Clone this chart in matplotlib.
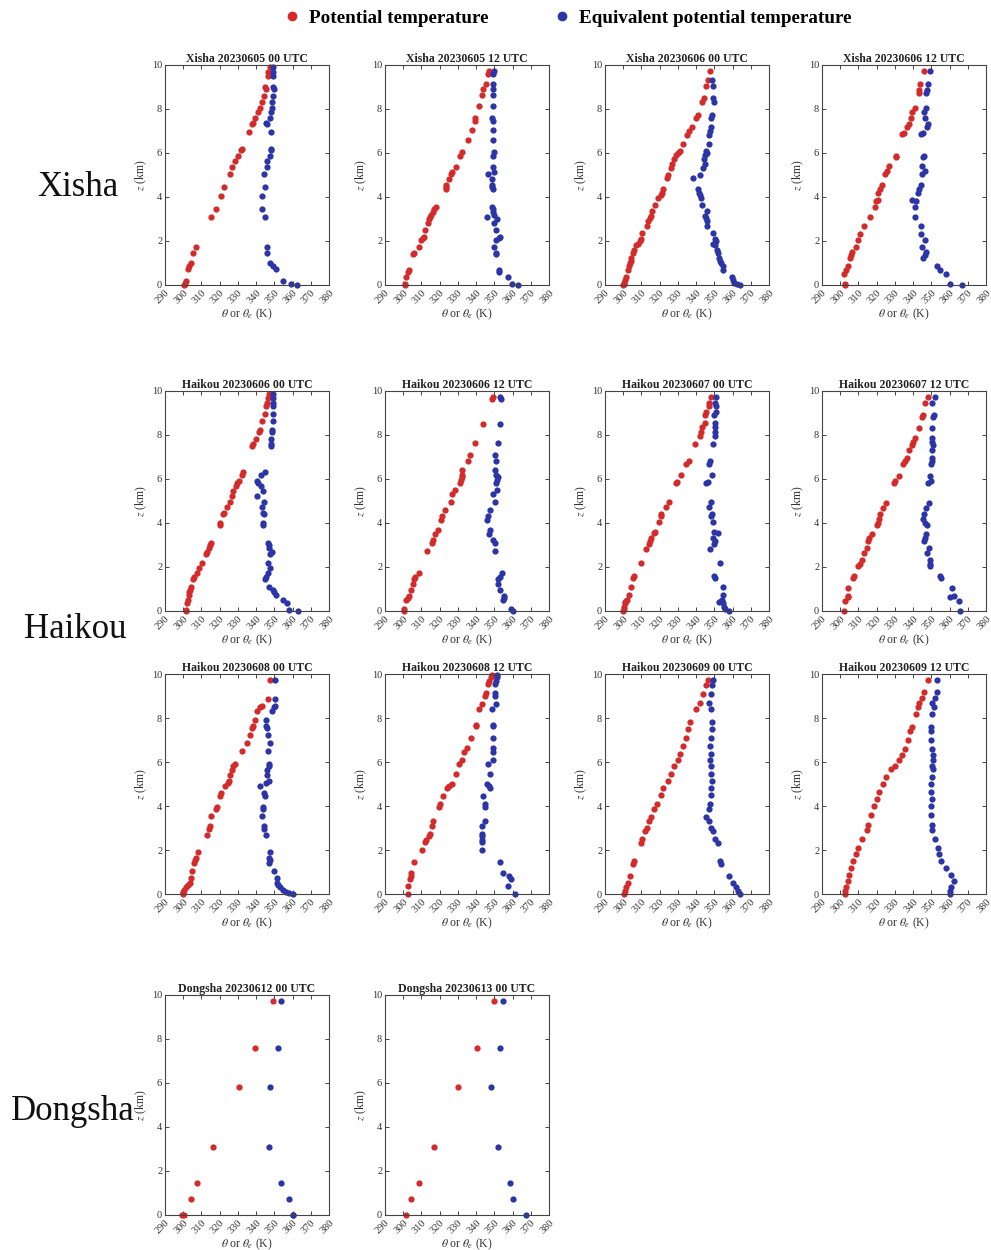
"""
Vertical profiles of potential temperature and equivalent potential temperature
for the Xisha, Haikou and Dongsha soundings.
"""
import matplotlib
import matplotlib.pyplot as plt
from matplotlib.lines import Line2D
import numpy as np

matplotlib.use('agg')

plt.rcParams['font.family'] = ['Liberation Serif', 'DejaVu Serif']
plt.rcParams['mathtext.fontset'] = 'stix'

nan = np.nan

# ---- data (z in km, theta / theta_e in K) ----
xisha_0605_00_z = [0.0, 0.05, 0.2, 0.75, 0.85, 1.0, 1.45, 1.75, 3.1, 3.45, 4.05, 4.45, 5.05, 5.35, 5.65, 5.85,
                   6.15, 6.2, 6.95, 7.3, 7.35, 7.6, 7.85, 8.05, 8.3, 8.6, 8.9, 9.0, 9.5, 9.7, 9.9]
xisha_0605_00_th = [300.5, 301, 301.5, 302.5, 303, 304, 305.5, 307, 315.5, 318, 320.5, 322.5, 325.5, 327, 328.5, 330,
                    331.5, 332.5, 336, 338, 338.5, 339.5, 341, 342, 343, 344.5, 345.5, 345, 346.5, 346.5, 347.5]
xisha_0605_00_the = [362.5, 359, 355, 351, 349.5, 347.5, 346, 346, 345, 343, 343.5, 345, 344.5, 346, 346, 347.5,
                     348, 348, 348, 346, 345.5, 347.5, 348, 348.5, 348.5, 349.5, 350, 349.5, 349.5, 349, 349]

xisha_0605_12_z = [0.0, 0.05, 0.35, 0.6, 0.7, 1.4, 1.45, 1.75, 2.05, 2.15, 2.2, 2.5, 2.8, 3.0, 3.1, 3.2, 3.3, 3.45,
                   3.55, 4.35, 4.45, 4.55, 4.8, 5.05, 5.15, 5.35, 5.85, 6.05, 6.6, 7.05, 7.45, 7.6, 8.15, 8.65, 8.9,
                   9.15, 9.6, 9.75]
xisha_0605_12_th = [301, 301, 301.5, 302.5, 303, 305.5, 306, 308.5, 310, 311, 311.5, 312, 313.5, 314, 314.5, 315.5,
                    316.5, 317, 318, 323.5, 323.5, 323.5, 325, 326, 327, 329, 331, 332, 335.5, 337.5, 339.5, 339.5,
                    341.5, 343.5, 344, 345.5, 346.5, 347]
xisha_0605_12_the = [363, 359.5, 357.5, 352.5, 352.5, 351, 351, 350, 351, 352.5, 353, 351, 350, 351.5, 346, 350,
                     349, 349, 348.5, 349, 348.5, 348.5, 348.5, 346.5, 350, 349, 349.5, 350, 349.5, 349, 349, 348.5,
                     349, 349, 349, 349.5, 349.5, 349.8]

xisha_0606_00_z = [0.0, 0.05, 0.1, 0.25, 0.35, 0.7, 0.85, 1.0, 1.1, 1.25, 1.45, 1.6, 1.8, 1.85, 2.0, 2.1, 2.35, 2.7,
                   2.9, 3.05, 3.15, 3.35, 3.65, 3.95, 4.1, 4.2, 4.35, 4.85, 5.0, 5.3, 5.5, 5.75, 5.9, 6.0, 6.1, 6.4,
                   6.8, 7.0, 7.2, 7.6, 7.75, 8.3, 8.5, 9.05, 9.3, 9.75]
xisha_0606_00_th = [300, 300.2, 300.5, 301, 301.5, 302.5, 303, 303.5, 304, 304.5, 305.5, 306, 307, 308, 309, 310,
                    310.5, 313, 313.5, 314.5, 315, 316, 317.5, 319, 320.5, 321.5, 322, 324, 324.5, 326, 327, 328,
                    329, 330, 331, 333, 335, 336, 337.5, 340, 341, 343, 344.5, 345.5, 346.5, 347.5]
xisha_0606_00_the = [364, 362.5, 361, 360, 359.5, 355, 354.5, 353.5, 353, 352.5, 352, 351.5, 350.5, 349, 351, 350.5,
                     349.5, 346, 346, 345.5, 345, 346, 343, 342.5, 342, 341.5, 341, 338.5, 342, 344, 345, 344.5,
                     345, 346, 345.5, 347, 347, 347.5, 348, 348, 348.5, 350, 349.5, 349.5, 348.5, nan]

xisha_0606_12_z = [0.0, 0.05, 0.5, 0.7, 0.85, 1.25, 1.35, 1.5, 1.75, 2.05, 2.3, 2.7, 3.1, 3.55, 3.8, 3.85, 4.2,
                   4.35, 4.55, 5.05, 5.2, 5.4, 5.8, 5.85, 6.85, 6.9, 7.2, 7.3, 7.6, 7.85, 8.05, 8.75, 8.85, 9.15,
                   9.75]
xisha_0606_12_th = [302.5, 302.5, 302, 303, 304, 305.5, 306, 306.5, 308.5, 309.5, 311, 313, 316.5, 319, 319.5,
                    320.5, 321, 322, 323, 324.5, 325.5, 326.5, 330.5, 330.5, 334, 335, 336.5, 337.5, 339, 339.5,
                    341, 343, 343.5, 344, 346]
xisha_0606_12_the = [367, 360.5, 358, 355, 353, 345.5, 346.5, 347, 345, 346.5, 344.5, 344.5, 341, 341, 341.5,
                     339.5, 342.5, 343.5, 344.5, 345, 346.5, 345, 345.5, 346, 344.5, 345.5, 347.5, 348, 346.5, 346,
                     347, 347, 347.5, 348, 349]

haikou_0606_00_z = [0.0, 0.05, 0.35, 0.5, 0.75, 0.85, 0.95, 1.1, 1.45, 1.55, 1.75, 1.95, 2.2, 2.6, 2.7, 2.85, 3.0,
                    3.1, 3.9, 4.0, 4.4, 4.45, 4.75, 4.95, 5.25, 5.45, 5.7, 5.8, 5.9, 6.2, 6.3, 7.5, 7.6, 7.8, 8.15,
                    8.25, 8.65, 8.95, 9.3, 9.45, 9.7, 9.85]
haikou_0606_00_th = [301.5, 301.5, 302, 302.5, 303, 303, 303.5, 304, 305.5, 306, 307.5, 308.5, 310.5, 312.5, 313,
                     314, 314.5, 315.5, 320, 320, 322, 322.5, 324, 325.5, 326.5, 327.5, 329, 329.5, 330.5, 332, 333,
                     338, 338.5, 340, 341.5, 342, 343.5, 345, 345.5, 346, 346.5, 347]
haikou_0606_00_the = [363, 358, 357, 355, 351, 350, 349, 347, 345, 345.5, 346.5, 347.5, 346.5, 347.5, 348.5, 347,
                      347, 346.5, 344, 344, 344.5, 344, 343, 344.5, 340.5, 344, 342.5, 341, 340.5, 342.5, 345, 348,
                      348, 348, 348.5, 348.5, 349, 349.5, 349.5, 349, 349.5, 349.5]

haikou_0606_12_z = [0.0, 0.1, 0.5, 0.6, 0.7, 0.95, 1.25, 1.45, 1.55, 1.75, 2.75, 3.1, 3.25, 3.5, 3.7, 4.15, 4.3,
                    4.6, 4.95, 5.3, 5.5, 5.8, 5.95, 6.1, 6.2, 6.4, 6.8, 7.1, 7.65, 8.5, 9.65, 9.75]
haikou_0606_12_th = [300.5, 300.5, 301.5, 302.5, 303, 304, 305.5, 306, 306.5, 308.5, 313, 316, 316.5, 317.5, 319,
                     321, 321.5, 323, 326, 326.5, 328.5, 331, 331.5, 332, 332.5, 332.5, 335.5, 336.5, 339.5, 344,
                     348.5, 349]
haikou_0606_12_the = [360.5, 359, 355, 355.5, 355.5, 353, 352, 352, 353, 354, 350.5, 350.5, 349, 347, 347.5, 346,
                      346.5, 347.5, 350.5, 349.5, 351.5, 351, 351.5, 352, 351, 350.5, 351, 350.5, 352, 353, 353.5,
                      353]

haikou_0607_00_z = [0.0, 0.1, 0.2, 0.35, 0.4, 0.45, 0.5, 0.75, 1.1, 1.5, 1.6, 2.2, 2.8, 3.05, 3.2, 3.3, 3.55, 3.6,
                    4.05, 4.3, 4.4, 4.75, 4.95, 5.8, 5.85, 6.2, 6.7, 6.8, 7.6, 7.95, 8.15, 8.35, 8.55, 8.9, 9.05,
                    9.3, 9.45, 9.75]
haikou_0607_00_th = [300, 300.5, 300.5, 301, 301, 301.5, 302, 303, 304.5, 305.5, 306, 310, 312.5, 314, 314.5, 315,
                     317, 317.5, 319.5, 320.5, 321, 323.5, 325, 329, 329.5, 331.5, 334.5, 336, 339.5, 342, 342.5,
                     343.5, 345, 345, 345.5, 347, 347, 348]
haikou_0607_00_the = [358, 356, 355.5, 355, 352.5, 353.5, 354, 355, 355, 350.5, 350, 353, 347.5, 350, 350.5, 349.5,
                      352, 350, 349.5, 348, 348.5, 347, 348, 345.5, 346.5, 348.5, 347, 347.5, 349, 350.5, 350.5,
                      350.5, 350.5, 350, 351, 351, 350.5, 351]

haikou_0607_12_z = [0.0, 0.45, 0.65, 0.7, 1.05, 1.5, 1.6, 2.05, 2.15, 2.3, 2.65, 2.85, 3.2, 3.3, 3.5, 3.9, 4.0,
                    4.2, 4.4, 4.7, 4.9, 5.8, 5.9, 6.15, 6.7, 6.8, 6.95, 7.3, 7.55, 7.7, 7.85, 8.3, 8.8, 8.9, 9.45,
                    9.75]
haikou_0607_12_th = [302, 302.5, 304, 304, 304.5, 307, 307.5, 310, 311, 312, 313, 314.5, 315.5, 316, 317.5, 320,
                     320.5, 321.5, 322, 323.5, 325, 329.5, 330, 332, 334.5, 335.5, 336.5, 337.5, 339.5, 340, 341,
                     343.5, 345, 345.5, 346.5, 348]
haikou_0607_12_the = [366, 365, 360.5, 362.5, 361.5, 355.5, 355, 349.5, 349.5, 349, 347.5, 348.5, 346, 346.5, 347,
                      347.5, 346.5, 345.5, 346, 347, 348.5, 348, 350, 349.5, 350, 350.5, 350.5, 350.5, 351, 350.5,
                      350.5, 350.5, 351, 351.5, 350.5, 352]

haikou_0608_00_z = [0.0, 0.05, 0.1, 0.2, 0.3, 0.4, 0.5, 0.75, 1.05, 1.4, 1.55, 1.65, 1.9, 2.7, 2.95, 3.1, 3.55,
                    3.85, 3.95, 4.45, 4.6, 4.9, 5.05, 5.15, 5.4, 5.65, 5.8, 5.9, 6.5, 6.85, 7.25, 7.55, 7.65, 7.9,
                    8.3, 8.5, 8.55, 8.85, 9.75]
haikou_0608_00_th = [300, 300, 300, 300.5, 301.5, 302.5, 303.5, 304, 305, 306, 306.5, 307, 308, 313, 314, 314.5,
                     315.5, 318, 318.5, 320, 320.5, 323, 324.5, 325, 325.5, 326.5, 327.5, 328.5, 332, 335, 336.5,
                     338, 338.5, 339.5, 340.5, 342, 343, 346.5, 347.5]
haikou_0608_00_the = [360, 358, 356.5, 354.5, 353, 352, 351.5, 351.5, 350, 347, 347.5, 347, 347.5, 345.5, 344.5,
                      344.5, 343.5, 344, 344, 345, 344.5, 342, 345.5, 347, 346, 346, 347, 347, 346.5, 347.5, 346.5,
                      346, 345.5, 345.5, 348.5, 350, 350.5, 350.5, 350.5]

haikou_0608_12_z = [0.0, 0.35, 0.7, 0.8, 0.95, 1.45, 2.0, 2.35, 2.45, 2.65, 2.75, 3.1, 3.3, 3.95, 4.1, 4.45, 4.8,
                    4.9, 5.0, 5.45, 5.9, 6.1, 6.45, 6.65, 7.1, 7.65, 7.7, 8.4, 8.65, 9.0, 9.15, 9.55, 9.7, 9.85,
                    9.95]
haikou_0608_12_th = [302.5, 302.5, 303.5, 304, 304.5, 306, 310.5, 312, 312.5, 314, 314.5, 316, 316.5, 319.5, 320,
                     322, 324, 325, 326.5, 329, 330.5, 332, 333.5, 335, 337, 340, 340, 341.5, 343.5, 345, 345.5,
                     346.5, 347, 348, 348.5]
haikou_0608_12_the = [361.5, 357.5, 359, 358, 355, 353, 343.5, 343, 343.5, 343.5, 343.5, 343.5, 345, 345, 345, 344,
                      347.5, 347, 346, 347.5, 346.5, 349.5, 349.5, 349.5, 349, 349.5, 349, 348.5, 351, 350.5, 350.5,
                      350.5, 351, 351.5, 351.5]

haikou_0609_00_z = [0.0, 0.15, 0.3, 0.5, 0.8, 1.35, 1.5, 2.3, 2.5, 2.85, 3.0, 3.3, 3.5, 3.85, 4.1, 4.5, 4.8, 5.15,
                    5.45, 5.8, 6.1, 6.35, 6.75, 7.1, 7.5, 7.8, 8.4, 8.7, 9.1, 9.5, 9.75]
haikou_0609_00_th = [300.5, 301, 301.5, 302.5, 303.5, 305.5, 306, 309.5, 310.5, 312, 313, 314, 315, 317, 318.5,
                     320.5, 322, 324.5, 326, 328, 330, 331, 333, 334.5, 335.5, 336.5, 340, 342, 344, 345.5, 346.5]
haikou_0609_00_the = [364, 363, 362, 360.5, 358, 353.5, 353, 352, 350.5, 349, 348, 347, 345.5, 347, 347.5, 348,
                      348, 348.5, 348, 348, 347.5, 348, 347.5, 348, 348.5, 348.5, 348, 347, 348, 348.5, 349.5]

haikou_0609_12_z = [0.0, 0.15, 0.3, 0.6, 0.85, 1.2, 1.5, 1.8, 2.1, 2.5, 2.9, 3.15, 3.6, 4.0, 4.3, 4.65, 5.0, 5.3,
                    5.7, 5.8, 6.1, 6.3, 6.6, 7.0, 7.4, 7.6, 8.2, 8.5, 8.7, 8.9, 9.2, 9.75]
haikou_0609_12_th = [302.5, 302.5, 303, 304, 305, 306, 307, 308.5, 310, 312, 314.5, 315.5, 317, 318.5, 320, 321.5,
                     323.5, 325, 328, 330, 332.5, 334, 335.5, 337, 338.5, 339.5, 341.5, 342.5, 343.5, 345, 346, 348]
haikou_0609_12_the = [360, 360, 361, 362.5, 361, 358, 355.5, 354, 353.5, 352, 350.5, 350.5, 350, 350, 350.5, 350,
                      350, 350.5, 351, 350.5, 351, 351, 350.5, 350, 350, 350, 350.5, 351.5, 350.5, 352, 353, 353]

dongsha_0612_00_z = [0.0, 0.02, 0.71, 1.45, 3.1, 5.84, 7.58, 9.71]
dongsha_0612_00_th = [299.5, 300.5, 304.2, 307.6, 316.4, 330.4, 339.6, 349.3]
dongsha_0612_00_the = [360.4, 360.0, 358.2, 353.5, 346.9, 347.6, 351.8, 353.8]

dongsha_0613_00_z = [0.0, 0.71, 1.45, 3.1, 5.84, 7.58, 9.71]
dongsha_0613_00_th = [301.5, 304.5, 308.5, 317, 330, 340.5, 350]
dongsha_0613_00_the = [367.5, 360.5, 358.5, 352, 348, 353, 355]

x_ticks = list(range(290, 381, 10))
y_ticks = list(range(0, 11, 2))

RED = '#d42a2a'
BLUE = '#2b35a8'

# panel title, row, column, data
panels = [
    ('Xisha 20230605 00 UTC', 0, 0, xisha_0605_00_z, xisha_0605_00_th, xisha_0605_00_the),
    ('Xisha 20230605 12 UTC', 0, 1, xisha_0605_12_z, xisha_0605_12_th, xisha_0605_12_the),
    ('Xisha 20230606 00 UTC', 0, 2, xisha_0606_00_z, xisha_0606_00_th, xisha_0606_00_the),
    ('Xisha 20230606 12 UTC', 0, 3, xisha_0606_12_z, xisha_0606_12_th, xisha_0606_12_the),
    ('Haikou 20230606 00 UTC', 1, 0, haikou_0606_00_z, haikou_0606_00_th, haikou_0606_00_the),
    ('Haikou 20230606 12 UTC', 1, 1, haikou_0606_12_z, haikou_0606_12_th, haikou_0606_12_the),
    ('Haikou 20230607 00 UTC', 1, 2, haikou_0607_00_z, haikou_0607_00_th, haikou_0607_00_the),
    ('Haikou 20230607 12 UTC', 1, 3, haikou_0607_12_z, haikou_0607_12_th, haikou_0607_12_the),
    ('Haikou 20230608 00 UTC', 2, 0, haikou_0608_00_z, haikou_0608_00_th, haikou_0608_00_the),
    ('Haikou 20230608 12 UTC', 2, 1, haikou_0608_12_z, haikou_0608_12_th, haikou_0608_12_the),
    ('Haikou 20230609 00 UTC', 2, 2, haikou_0609_00_z, haikou_0609_00_th, haikou_0609_00_the),
    ('Haikou 20230609 12 UTC', 2, 3, haikou_0609_12_z, haikou_0609_12_th, haikou_0609_12_the),
    ('Dongsha 20230612 00 UTC', 3, 0, dongsha_0612_00_z, dongsha_0612_00_th, dongsha_0612_00_the),
    ('Dongsha 20230613 00 UTC', 3, 1, dongsha_0613_00_z, dongsha_0613_00_th, dongsha_0613_00_the),
]

# layout in pixels of the 991x1250 canvas
W, H = 991, 1250
col_left = [165, 385, 605, 822]
row_top = [65, 391, 674, 995]
ax_w, ax_h = 164, 220

fig = plt.figure(figsize=(W / 100, H / 100), dpi=100)

for title, row, col, z, th, the in panels:
    left = col_left[col] / W
    bottom = 1 - (row_top[row] + ax_h) / H
    ax = fig.add_axes([left, bottom, ax_w / W, ax_h / H])
    ax.plot(th, z, 'o', color=RED, ms=4.5, mec='none', clip_on=False)
    ax.plot(the, z, 'o', color=BLUE, ms=4.5, mec='none', clip_on=False)
    ax.set_xlim(290, 380)
    ax.set_ylim(0, 10)
    ax.set_xticks(x_ticks)
    ax.set_yticks(y_ticks)
    ax.tick_params(direction='in', top=True, right=True, length=3, width=0.7,
                   labelsize=7.5, labelcolor='#333333', color='#444444', pad=2)
    for lab in ax.get_xticklabels():
        lab.set_rotation(45)
        lab.set_ha('right')
        lab.set_rotation_mode('anchor')
    for spine in ax.spines.values():
        spine.set_linewidth(0.8)
        spine.set_color('#444444')
    ax.set_title(title, fontsize=8.5, fontweight='bold', pad=2, color='#222222')
    ax.set_xlabel(r'$\theta$ or $\theta_e$ (K)', fontsize=8.5, labelpad=1, color='#333333')
    ax.set_ylabel(r'$z$ (km)', fontsize=8.5, labelpad=2, color='#333333')

# station names
for name, x, y in [('Xisha', 78, 187), ('Haikou', 75, 630), ('Dongsha', 73, 1112)]:
    fig.text(x / W, 1 - y / H, name, fontsize=25, ha='center', va='center', color='#111111')

handles = [Line2D([], [], ls='none', marker='o', color=RED, ms=7, mec='none'),
           Line2D([], [], ls='none', marker='o', color=BLUE, ms=7, mec='none')]
fig.legend(handles, ['Potential temperature', 'Equivalent potential temperature'],
           loc='center', bbox_to_anchor=(0.572, 1 - 18 / H), ncol=2, frameon=False,
           prop={'weight': 'bold', 'size': 13.8}, columnspacing=3.3, handletextpad=0.4,
           handlelength=1.0)

fig.savefig('out.png', dpi=100)
